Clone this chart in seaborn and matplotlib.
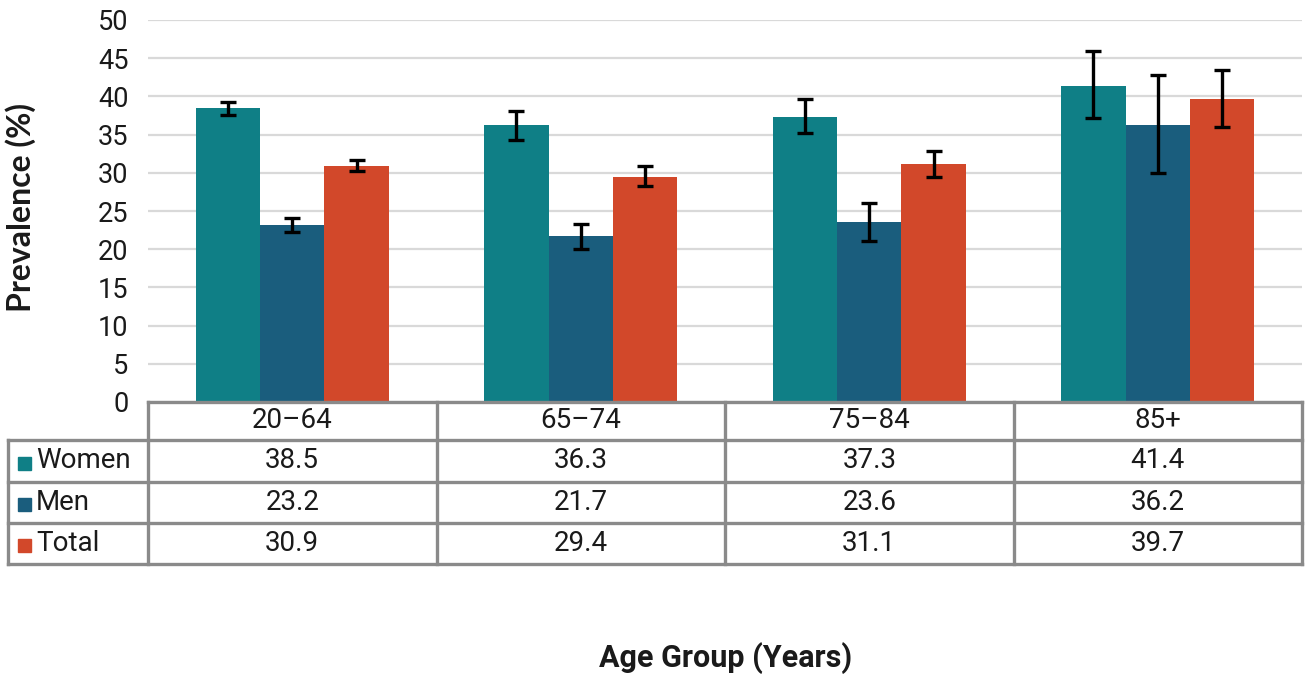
import numpy as np
import pandas as pd
import matplotlib
matplotlib.use("Agg")
import matplotlib.pyplot as plt
import seaborn as sns
from matplotlib.transforms import blended_transform_factory
from matplotlib.lines import Line2D
from matplotlib.patches import Rectangle

# ---- data ----
age_groups = ["20–64", "65–74", "75–84", "85+"]
series = ["Women", "Men", "Total"]
women = [38.5, 36.3, 37.3, 41.4]
men = [23.2, 21.7, 23.6, 36.2]
total = [30.9, 29.4, 31.1, 39.7]
women_lo = [37.6, 34.3, 35.2, 37.2]
women_hi = [39.3, 38.1, 39.6, 46.0]
men_lo = [22.3, 20.0, 21.1, 30.0]
men_hi = [24.1, 23.3, 26.0, 42.8]
total_lo = [30.3, 28.3, 29.5, 36.0]
total_hi = [31.7, 30.9, 32.9, 43.5]
yticks = [0, 5, 10, 15, 20, 25, 30, 35, 40, 45, 50]
colors = ["#0F7F86", "#1A5D7D", "#D2482A"]

values = [women, men, total]
lows = [women_lo, men_lo, total_lo]
highs = [women_hi, men_hi, total_hi]

df = pd.DataFrame({
    "age": age_groups * 3,
    "series": [s for s in series for _ in age_groups],
    "value": women + men + total,
})

sns.set_theme(style="white")
plt.rcParams["font.family"] = ["Roboto", "DejaVu Sans"]
text_color = "#1a1a1a"
border = "#8a8a8a"
fs = 20

W, H = 1316, 678
fig = plt.figure(figsize=(W / 100, H / 100), dpi=100)
ax = fig.add_axes([148 / W, 1 - 402 / H, (1302 - 148) / W, (402 - 20) / H])

sns.barplot(data=df, x="age", y="value", hue="series", hue_order=series,
            order=age_groups, palette=colors, saturation=1, width=0.67,
            linewidth=0, legend=False, errorbar=None, ax=ax)

# error bars at bar centers
bar_conts = list(ax.containers)
for i, cont in enumerate(bar_conts):
    xs = [p.get_x() + p.get_width() / 2 for p in cont.patches]
    v = np.array(values[i])
    lo = v - np.array(lows[i])
    hi = np.array(highs[i]) - v
    ax.errorbar(xs, v, yerr=[lo, hi], fmt="none", ecolor="black",
                elinewidth=2.4, capsize=5.5, capthick=2.4, zorder=5)

ax.set_ylim(0, 50)
ax.set_xlim(-0.5, len(age_groups) - 0.5)
ax.set_yticks(yticks)
ax.set_yticklabels([str(t) for t in yticks])
ax.tick_params(axis="y", length=0, pad=14, labelsize=19.5, labelcolor=text_color)
ax.tick_params(axis="x", length=0, labelbottom=False)
ax.set_xlabel("")
ax.yaxis.grid(True, color="#d9d9d9", lw=1.6)
ax.set_axisbelow(True)
for s in ax.spines.values():
    s.set_visible(False)

ax.set_ylabel("Prevalence (%)", fontsize=23, fontweight="bold", color=text_color,
              family=["Lato", "DejaVu Sans"])
ax.yaxis.set_label_coords((36 - 148) / 1154, (402 - 207) / 382)

# ---- data table below the axes ----
tr = blended_transform_factory(ax.transData, ax.transAxes)
ax_h = 382.0
rows_px = [402, 440, 482, 523, 564]
ry = [(402 - p) / ax_h for p in rows_px]
col_px = 288.5
xL = -0.5 - (148 - 8) / col_px
lw = 2.4
n = len(age_groups)

def hline(y, x0, x1):
    ax.add_line(Line2D([x0, x1], [y, y], transform=tr, color=border, lw=lw,
                       clip_on=False, zorder=6, solid_capstyle="projecting"))

def vline(x, y0, y1):
    ax.add_line(Line2D([x, x], [y0, y1], transform=tr, color=border, lw=lw,
                       clip_on=False, zorder=6, solid_capstyle="projecting"))

hline(ry[0], -0.5, n - 0.5)
for y in ry[1:]:
    hline(y, xL, n - 0.5)
for k in range(n + 1):
    vline(k - 0.5, ry[0], ry[4])
vline(xL, ry[1], ry[4])

for j, g in enumerate(age_groups):
    ax.text(j, (ry[0] + ry[1]) / 2, g, transform=tr, ha="center", va="center",
            fontsize=fs, color=text_color, clip_on=False)

sq_x = -0.5 - (148 - 18) / col_px
sq_w = 13 / col_px
txt_x = -0.5 - (148 - 36) / col_px
for r, s in enumerate(series):
    yc = (ry[r + 1] + ry[r + 2]) / 2
    ax.add_patch(Rectangle((sq_x, yc - 6.5 / ax_h - 2 / ax_h), sq_w, 13 / ax_h,
                           transform=tr, color=colors[r], clip_on=False, zorder=6))
    ax.text(txt_x, yc, s, transform=tr, ha="left", va="center",
            fontsize=fs, color=text_color, clip_on=False)
    for j in range(n):
        ax.text(j, yc, f"{values[r][j]:.1f}", transform=tr, ha="center",
                va="center", fontsize=fs, color=text_color, clip_on=False)

fig.text(726 / W, 1 - 658 / H, "Age Group (Years)", ha="center", va="center",
         fontsize=22, fontweight="bold", color=text_color)

fig.savefig("out.png", dpi=100, facecolor="white")
